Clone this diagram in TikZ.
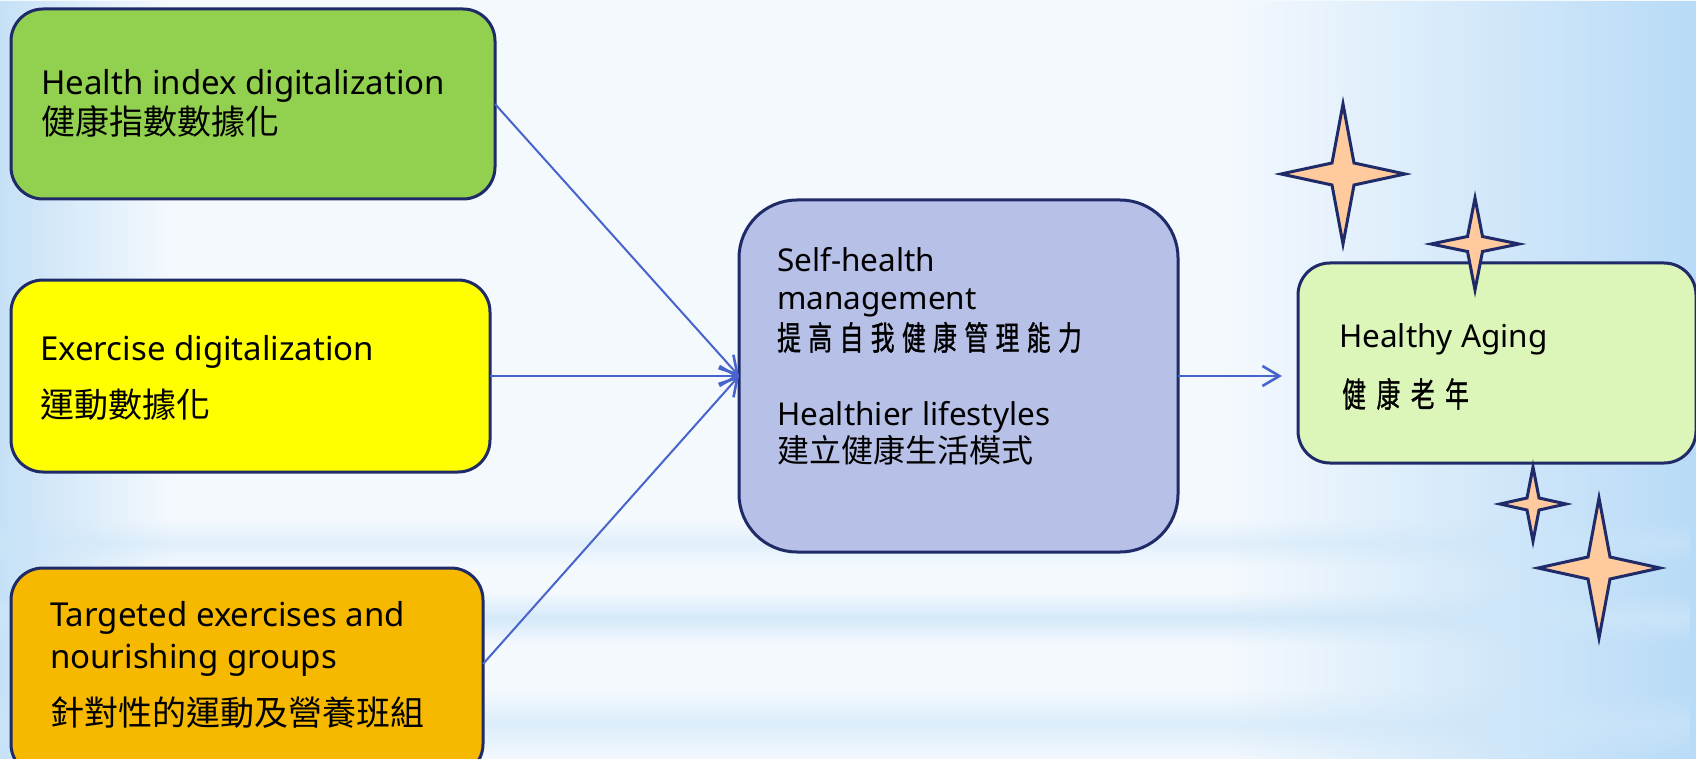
\documentclass[tikz,border=0pt]{standalone}
\usepackage{fontspec}
\usepackage{graphicx}
\setmainfont{Noto Sans}
\newfontfamily\cjk{Noto Sans CJK TC}
\newfontfamily\cjkheavy[FakeBold=1.2]{Noto Sans CJK TC}
\usetikzlibrary{arrows.meta,fadings,calc}

\definecolor{navy}{RGB}{31,42,104}
\definecolor{arrowblue}{RGB}{72,100,204}
\definecolor{boxgreen}{RGB}{146,208,80}
\definecolor{boxyellow}{RGB}{255,255,0}
\definecolor{boxorange}{RGB}{246,185,0}
\definecolor{boxlav}{RGB}{183,193,232}
\definecolor{boxlime}{RGB}{219,246,184}
\definecolor{starfill}{RGB}{255,203,158}
\definecolor{bgbase}{RGB}{244,249,254}
\definecolor{bgleft}{RGB}{198,225,247}
\definecolor{bgright}{RGB}{184,219,247}
\definecolor{bgband}{RGB}{205,230,249}

\tikzfading[name=fadeToRight, left color=transparent!0, right color=transparent!100]
\tikzfading[name=fadeToLeft, left color=transparent!100, right color=transparent!0]
\tikzfading[name=bandFade, top color=transparent!100, bottom color=transparent!100, middle color=transparent!0]

% one narrow, letter-spaced ideograph cell
\newcommand\widecell[3]{\makebox[#1][l]{\scalebox{#2}[1]{#3}}}

% four-pointed sparkle: centre x, centre y, half width, half height, inner offset
\newcommand\drawsparkle[5]{%
  \draw[sparkle] (#1-#3,#2) -- (#1-#5,#2-#5) -- (#1,#2-#4) -- (#1+#5,#2-#5)
    -- (#1+#3,#2) -- (#1+#5,#2+#5) -- (#1,#2+#4) -- (#1-#5,#2+#5) -- cycle;}

\tikzset{
  box/.style={draw=navy, line width=3pt, rounded corners=32pt, anchor=north west,
    inner sep=0pt, outer sep=0pt},
  bigbox/.style={box, rounded corners=58pt},
  entext/.style={anchor=base west, inner sep=0pt, font=\fontsize{33}{40}\selectfont},
  entextm/.style={anchor=base west, inner sep=0pt, font=\fontsize{31.5}{38}\selectfont},
  zhtext/.style={anchor=base west, inner sep=0pt, font=\cjk\fontsize{34}{40}\selectfont},
  zhtextm/.style={anchor=base west, inner sep=0pt, font=\cjk\fontsize{32}{38}\selectfont},
  zhbold/.style={anchor=base west, inner sep=0pt, font=\cjkheavy\fontsize{33}{38}\selectfont},
  conn/.style={draw=arrowblue, line width=2pt,
    -{Straight Barb[length=17pt, width=20pt, line width=2.6pt]}},
  sparkle/.style={draw=navy, fill=starfill, line width=3pt, line join=miter, miter limit=20},
}

\begin{document}
\begin{tikzpicture}[x=1pt, y=-1pt]
\useasboundingbox (0,0) rectangle (1696,759);
\clip (0,0) rectangle (1696,759);

% soft blue backdrop
\fill[bgbase] (0,0) rectangle (1696,759);
\fill[bgleft, path fading=fadeToRight] (0,0) rectangle (170,759);
\fill[bgright, path fading=fadeToLeft] (1230,0) rectangle (1696,759);
\fill[bgband, path fading=bandFade, opacity=0.5] (0,520) rectangle (1696,566);
\fill[bgband, path fading=bandFade, opacity=0.8] (0,592) rectangle (1696,644);
\fill[bgband, path fading=bandFade, opacity=0.6] (0,690) rectangle (1696,759);

% input boxes
\node[box, fill=boxgreen, minimum width=484pt, minimum height=190pt] (green) at (11,9) {};
\node[box, fill=boxyellow, minimum width=479pt, minimum height=192pt] (yellow) at (11,280) {};
\node[box, fill=boxorange, minimum width=472pt, minimum height=208pt] (orange) at (11,568) {};

% central and outcome boxes
\node[bigbox, fill=boxlav, minimum width=439pt, minimum height=352pt] (mid) at (739,200) {};
\node[box, fill=boxlime, minimum width=398pt, minimum height=200pt] (aging) at (1298,263) {};

% texts
\node[entext] (greenen) at (41,95) {Health index digitalization};
\node[zhtext] (greenzh) at (41,135) {健康指數數據化};

\node[entext] (yellowen) at (40,360) {Exercise digitalization};
\node[zhtext] (yellowzh) at (40,417) {運動數據化};

\node[entext] (orangeen1) at (50,626) {Targeted exercises and};
\node[entext] (orangeen2) at (50,668) {nourishing groups};
\node[zhtext] (orangezh) at (50,725) {針對性的運動及營養班組};

\node[entextm] (miden1) at (777,272) {Self-health};
\node[entextm] (miden2) at (777,309) {management};
\node[zhbold] (midzh1) at (777,350) {%
  \widecell{31.2pt}{0.72}{提}\widecell{31.2pt}{0.72}{高}\widecell{31.2pt}{0.72}{自}%
  \widecell{31.2pt}{0.72}{我}\widecell{31.2pt}{0.72}{健}\widecell{31.2pt}{0.72}{康}%
  \widecell{31.2pt}{0.72}{管}\widecell{31.2pt}{0.72}{理}\widecell{31.2pt}{0.72}{能}%
  \widecell{31.2pt}{0.72}{力}};
\node[entextm] (miden3) at (777,425) {Healthier lifestyles};
\node[zhtextm] (midzh2) at (777,462) {建立健康生活模式};

\node[entextm] (agingen) at (1339,347) {Healthy Aging};
\node[zhbold, font=\cjkheavy\fontsize{34}{40}\selectfont] (agingzh) at (1342,407) {%
  \widecell{34.3pt}{0.7}{健}\widecell{34.3pt}{0.7}{康}\widecell{34.3pt}{0.7}{老}%
  \widecell{34.3pt}{0.7}{年}};

% connectors
\coordinate (agingtip) at (1282,376);
\draw[conn] (green.east) -- (mid.west);
\draw[conn] (yellow.east) -- (mid.west);
\draw[conn] ([yshift=8pt]orange.east) -- (mid.west);
\draw[conn] (mid.east) -- (agingtip);

% sparkles
\drawsparkle{1343}{174}{62}{70}{11}
\drawsparkle{1475}{244}{44}{46}{7.5}
\drawsparkle{1533}{504}{33}{37}{6}
\drawsparkle{1599}{568}{61}{70}{11}
\end{tikzpicture}
\end{document}
